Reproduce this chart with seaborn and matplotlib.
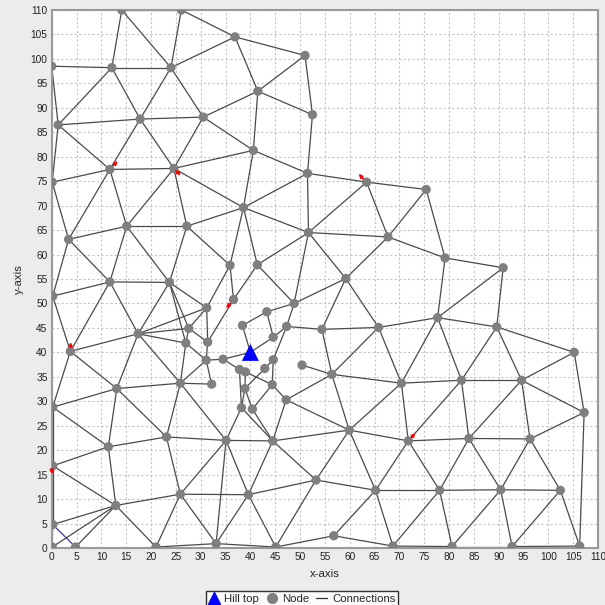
import numpy as np
import pandas as pd
import matplotlib
matplotlib.use("Agg")
import matplotlib.pyplot as plt
import seaborn as sns
from matplotlib.lines import Line2D

# node positions
node_id = [1, 2, 3, 4, 5, 6, 7, 8, 9, 10,
           11, 12, 13, 14, 15, 16, 17, 18, 19, 20,
           21, 22, 23, 24, 25, 26, 27, 28, 29, 30,
           31, 32, 33, 34, 35, 36, 37, 38, 39, 40,
           41, 42, 43, 44, 45, 46, 47, 49, 50,
           51, 52, 53, 54, 55, 56, 57, 58, 59, 60,
           61, 62, 63, 64, 65, 66, 67, 68, 69, 70,
           71, 72, 73, 74, 75, 76, 77, 78, 79, 80,
           81, 82, 83, 84, 85, 86, 87, 88, 89, 90,
           91, 92, 93, 94, 95, 96, 97, 98, 99, 100]
node_x = [0, 12.1, 24.0, 14.1, 26.1, 36.9, 51.0, 41.5, 52.5, 1.3,
          17.8, 30.5, 40.6, 11.7, 24.6, 0.1, 51.5, 63.4, 75.4, 38.6,
          3.4, 15.1, 27.2, 51.7, 67.7, 35.9, 41.4, 79.2, 90.9, 59.2,
          0.2, 11.7, 23.7, 36.6, 31.2, 48.8, 43.3, 38.4, 27.6, 47.3,
          54.4, 65.8, 77.7, 89.6, 17.4, 3.75, 27.0, 44.6, 31.4,
          34.5, 31.1, 44.6, 50.4, 56.4, 37.8, 39.0, 42.9, 32.2, 44.4,
          38.9, 47.2, 38.2, 40.4, 59.9, 35.1, 44.5, 53.2, 65.2, 39.6,
          56.8, 33.1, 45.1, 0.2, 13.1, 25.9, 11.4, 23.1, 0.2, 25.9,
          12.9, 0.2, 0.1, 4.8, 21.0, 70.4, 82.5, 94.6, 107.2, 71.8,
          84.0, 96.3, 78.1, 90.4, 102.4, 68.7, 80.6, 92.7, 106.3, 105.2]
node_y = [98.5, 98.2, 98.2, 110, 110, 104.5, 100.7, 93.4, 88.6, 86.5,
          87.7, 88.1, 81.3, 77.4, 77.6, 74.8, 76.6, 74.8, 73.3, 69.6,
          63.1, 65.8, 65.8, 64.5, 63.6, 57.8, 57.9, 59.3, 57.3, 55.1,
          51.5, 54.4, 54.3, 50.8, 49.1, 50.0, 48.3, 45.5, 44.9, 45.3,
          44.7, 45.1, 47.1, 45.2, 43.8, 40.2, 41.9, 43.1, 42.1,
          38.6, 38.4, 38.5, 37.4, 35.5, 36.5, 36.0, 36.7, 33.5, 33.4,
          32.6, 30.3, 28.7, 28.4, 24.1, 22.0, 21.9, 13.9, 11.8, 10.9,
          2.5, 0.9, 0.2, 28.8, 32.6, 33.7, 20.7, 22.7, 16.8, 11.0,
          8.7, 4.8, 0.2, 0.2, 0.2, 33.7, 34.3, 34.3, 27.7, 21.9,
          22.4, 22.3, 11.8, 11.9, 11.8, 0.4, 0.3, 0.3, 0.4, 40.0]

hill_x = [40]
hill_y = [40]

# connections (node id pairs, 0 = hill top)
edges = [(1, 2), (2, 3), (2, 4), (3, 4), (3, 5), (4, 5), (1, 10), (2, 10), (2, 11), (3, 11),
         (10, 11), (11, 12), (3, 6), (3, 12), (10, 14), (10, 16), (11, 14), (11, 15), (14, 15),
         (5, 6), (6, 7), (6, 8), (7, 8), (7, 9), (8, 9), (8, 12), (8, 13), (9, 17), (13, 17),
         (12, 13), (12, 15), (13, 15), (15, 20), (15, 23), (15, 22), (14, 22), (14, 16), (14, 21),
         (13, 20), (20, 23), (20, 26), (20, 27), (20, 24), (17, 20), (22, 23), (22, 32), (22, 33),
         (21, 22), (23, 26), (23, 33),
         (17, 18), (17, 24), (18, 19), (18, 24), (18, 25), (19, 25), (19, 28), (24, 25), (24, 30),
         (24, 27), (24, 36), (25, 30), (25, 28), (28, 29), (28, 43), (30, 36), (30, 41), (30, 42),
         (36, 40), (36, 37), (40, 41), (41, 42), (42, 43), (43, 86), (43, 87), (43, 44), (29, 43),
         (29, 44), (44, 100), (44, 87), (44, 88), (88, 100), (89, 100), (86, 87), (87, 88), (42, 86),
         (86, 90), (87, 90), (87, 91), (88, 91), (88, 92), (88, 89), (89, 92), (89, 99), (90, 91),
         (91, 92), (90, 93), (91, 93), (91, 94), (92, 94), (92, 95), (93, 94), (94, 95), (93, 96),
         (93, 97), (94, 97), (94, 98), (95, 98), (95, 99), (65, 90), (69, 90), (69, 93), (65, 86),
         (96, 97), (97, 98), (98, 99),
         (62, 65), (55, 65), (65, 68), (65, 69), (68, 69), (67, 68), (68, 70), (68, 73), (69, 71),
         (69, 96), (71, 73), (71, 96), (67, 70), (70, 73), (70, 72), (66, 70), (66, 67), (62, 67),
         (64, 67), (63, 67), (63, 66), (72, 73), (66, 72), (72, 85), (72, 80), (70, 80), (66, 80),
         (65, 67),
         (74, 75), (46, 74), (74, 77), (74, 79), (75, 76), (75, 77), (75, 78), (76, 78), (77, 78),
         (77, 79), (77, 81), (78, 80), (66, 78), (79, 81), (80, 81), (80, 85), (81, 82), (81, 83),
         (81, 84), (81, 85), (79, 82),
         (16, 21), (21, 31), (21, 32), (31, 32), (31, 46), (32, 33), (32, 45), (32, 46), (33, 45),
         (33, 35), (33, 39), (33, 47), (45, 46), (39, 45), (45, 47), (35, 45), (45, 75), (45, 76),
         (46, 75), (47, 76), (59, 76), (66, 76),
         (26, 34), (26, 35), (27, 34), (27, 36), (34, 50), (35, 39), (35, 50), (39, 47), (39, 50),
         (47, 52), (50, 52), (51, 52), (0, 51), (0, 49), (0, 38), (40, 49), (37, 49), (37, 38),
         (40, 53), (53, 60), (53, 58), (58, 61), (51, 56), (56, 63), (57, 61), (57, 60), (52, 59),
         (52, 76), (61, 63), (61, 64), (60, 62), (60, 64), (54, 55), (55, 62), (41, 55), (42, 55),
         (55, 86)]

blue_edges = [(82, 84), (82, 83)]

# small red direction arrows (start x, start y, end x, end y)
arrow_x0 = [12.4, 25.0, 62.7, 36.0, 3.8, 72.45, 0.0]
arrow_y0 = [78.2, 77.1, 75.5, 50.0, 41.1, 22.6, 16.2]
arrow_x1 = [13.3, 26.0, 61.8, 35.1, 3.8, 73.2, 0.0]
arrow_y1 = [79.1, 76.2, 76.5, 49.1, 42.1, 23.5, 15.1]

pos = {i: (x, y) for i, x, y in zip(node_id, node_x, node_y)}
pos[0] = (hill_x[0], hill_y[0])


def segments(pairs):
    rows = []
    for k, (a, b) in enumerate(pairs):
        rows.append({"edge": k, "x": pos[a][0], "y": pos[a][1]})
        rows.append({"edge": k, "x": pos[b][0], "y": pos[b][1]})
    return pd.DataFrame(rows)


edge_df = segments(edges)
blue_df = segments(blue_edges)
nodes = pd.DataFrame({"x": node_x, "y": node_y})
hill = pd.DataFrame({"x": hill_x, "y": hill_y})

sns.set_style("white")
plt.rcParams["font.family"] = ["Liberation Sans", "DejaVu Sans"]

fig = plt.figure(figsize=(6.05, 6.05), dpi=100, facecolor="#ececec")
ax = fig.add_axes([0.0855, 0.0942, 0.9030, 0.8893])
ax.set_facecolor("white")

sns.lineplot(data=edge_df, x="x", y="y", units="edge", estimator=None, sort=False,
             color="#4a4a4a", linewidth=0.9, ax=ax, legend=False)
sns.lineplot(data=blue_df, x="x", y="y", units="edge", estimator=None, sort=False,
             color="#3a3aa8", linewidth=0.9, ax=ax, legend=False)
sns.scatterplot(data=nodes, x="x", y="y", color="#7f7f7f", s=45, edgecolor="none",
                ax=ax, zorder=3)
sns.scatterplot(data=hill, x="x", y="y", color="#0000ff", marker="^", s=150,
                edgecolor="none", ax=ax, zorder=4)

for x0, y0, x1, y1 in zip(arrow_x0, arrow_y0, arrow_x1, arrow_y1):
    ax.annotate("", xy=(x1, y1), xytext=(x0, y0),
                arrowprops=dict(arrowstyle="-|>", color="red", lw=1.2,
                                mutation_scale=5, shrinkA=0, shrinkB=0), zorder=5)

ax.set_xlim(0, 110)
ax.set_ylim(0, 110)
ax.set_xticks(np.arange(0, 111, 5))
ax.set_yticks(np.arange(0, 111, 5))
ax.tick_params(length=0, pad=3, labelsize=7.3, colors="#222222")
ax.grid(True, color="#c4c4c4", linestyle=(0, (2, 2)), linewidth=0.8)
ax.set_axisbelow(True)
for s in ax.spines.values():
    s.set_color("#9a9a9a")
    s.set_linewidth(1.5)

ax.set_xlabel("x-axis", fontsize=8.2, labelpad=5)
ax.set_ylabel("y-axis", fontsize=8.2, labelpad=5)

handles = [
    Line2D([], [], marker="^", color="#0000ff", linestyle="none", markersize=9),
    Line2D([], [], marker="o", color="#7f7f7f", linestyle="none", markersize=7),
    Line2D([], [], color="#333333", linewidth=0.9),
]
leg = fig.legend(handles, ["Hill top", "Node", "Connections"], loc="lower center",
                 bbox_to_anchor=(0.499, -0.012), ncol=3, frameon=True, fancybox=False,
                 fontsize=8.2, handlelength=1.0, handletextpad=0.4, columnspacing=0.6,
                 borderpad=0.25)
leg.get_frame().set_edgecolor("black")
leg.get_frame().set_linewidth(1.0)
leg.get_frame().set_facecolor("white")

fig.savefig("out.png", dpi=100, facecolor=fig.get_facecolor())
